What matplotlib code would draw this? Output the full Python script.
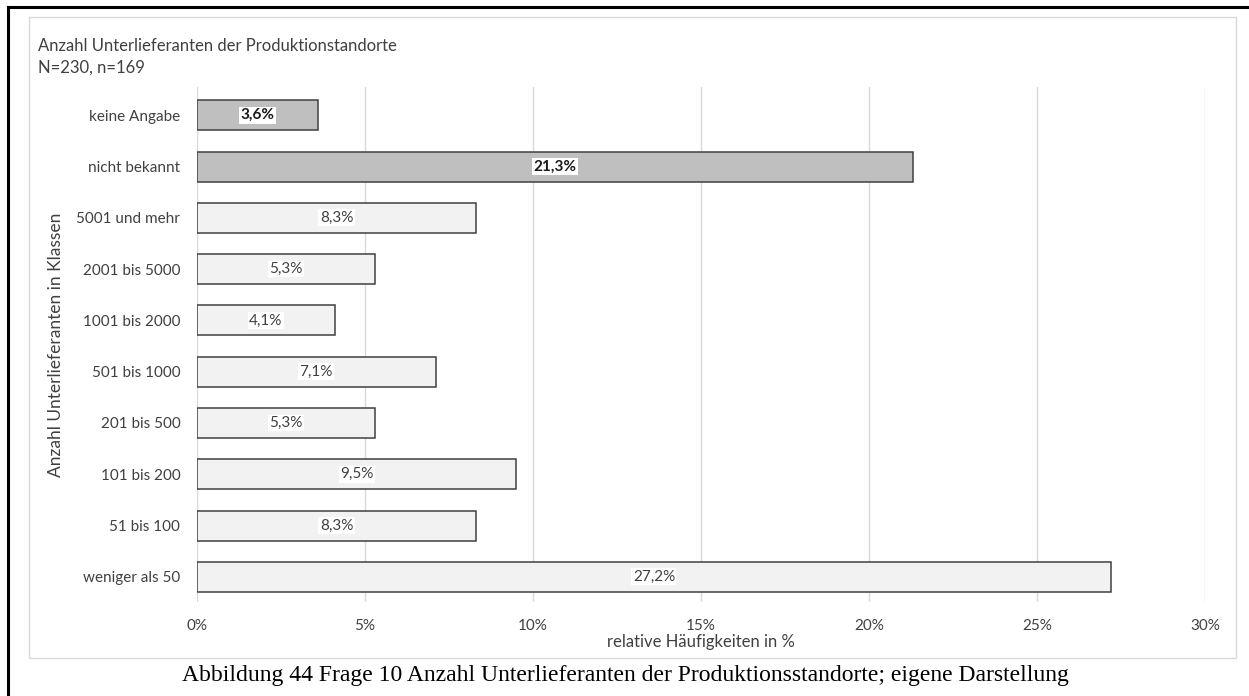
import numpy as np
import matplotlib.pyplot as plt
from matplotlib.patches import Rectangle
from matplotlib.lines import Line2D

# data
kategorien = ["keine Angabe", "nicht bekannt", "5001 und mehr", "2001 bis 5000",
              "1001 bis 2000", "501 bis 1000", "201 bis 500", "101 bis 200",
              "51 bis 100", "weniger als 50"]
anteile = [3.6, 21.3, 8.3, 5.3, 4.1, 7.1, 5.3, 9.5, 8.3, 27.2]
x_ticks = [0, 5, 10, 15, 20, 25, 30]
x_ticklabels = ["0%", "5%", "10%", "15%", "20%", "25%", "30%"]

plt.rcParams['font.family'] = ['Lato', 'DejaVu Sans']

fig = plt.figure(figsize=(12.49, 6.96), dpi=100)
W, H = 1249, 696

# rahmen: aussen schwarz (oben, links), innen hellgrau
fig.add_artist(Line2D([8/W, 1], [1-7/H, 1-7/H], color='black', lw=2.2))
fig.add_artist(Line2D([8/W, 8/W], [0, 1-7/H], color='black', lw=2.2))
fig.add_artist(Rectangle((29/W, 1-658/H), (1236-29)/W, (658-17)/H,
                         fill=False, edgecolor='#d9d9d9', lw=1.0))

ax = fig.add_axes([197/W, 1-602/H, (1205-197)/W, (602-87)/H])

y = np.arange(len(kategorien))
farben = ['#bfbfbf' if i < 2 else '#f2f2f2' for i in range(len(kategorien))]
ax.barh(y, anteile, height=0.585, color=farben, edgecolor='#404040', linewidth=1.1, zorder=3)

for i, v in enumerate(anteile):
    txt = f"{v:.1f}%".replace('.', ',')
    ax.text(v/2, i, txt, ha='center', va='center', fontsize=11,
            fontweight='bold' if i < 2 else 'normal', color='#1a1a1a' if i < 2 else '#404040',
            bbox=dict(facecolor='white', edgecolor='none', pad=1.0), zorder=4)

ax.set_xlim(0, 30)
ax.set_ylim(9.49, -0.55)
ax.set_yticks(y)
ax.set_yticklabels(kategorien, fontsize=11, color='#404040')
ax.set_xticks(x_ticks)
ax.set_xticklabels(x_ticklabels, fontsize=11, color='#404040')
ax.tick_params(length=0, pad=12)
ax.tick_params(axis='y', pad=12)
ax.grid(axis='x', color='#d9d9d9', lw=1.0, zorder=0)
for s in ax.spines.values():
    s.set_visible(False)

ax.set_xlabel("relative Häufigkeiten in %", fontsize=12, color='#404040', labelpad=1)
fig.text(56/W, 1-345/H, "Anzahl Unterlieferanten in Klassen", rotation=90,
         ha='center', va='center', fontsize=12.5, color='#404040')

fig.text(38/W, 1-46/H, "Anzahl Unterlieferanten der Produktionstandorte",
         ha='left', va='center', fontsize=12, color='#404040')
fig.text(38/W, 1-68/H, "N=230, n=169", ha='left', va='center', fontsize=12, color='#404040')

fig.text(625/W, 1-675/H,
         "Abbildung 44 Frage 10 Anzahl Unterlieferanten der Produktionsstandorte; eigene Darstellung",
         ha='center', va='center', fontsize=17, family='Liberation Serif', color='black')

fig.savefig("out.png", dpi=100)
